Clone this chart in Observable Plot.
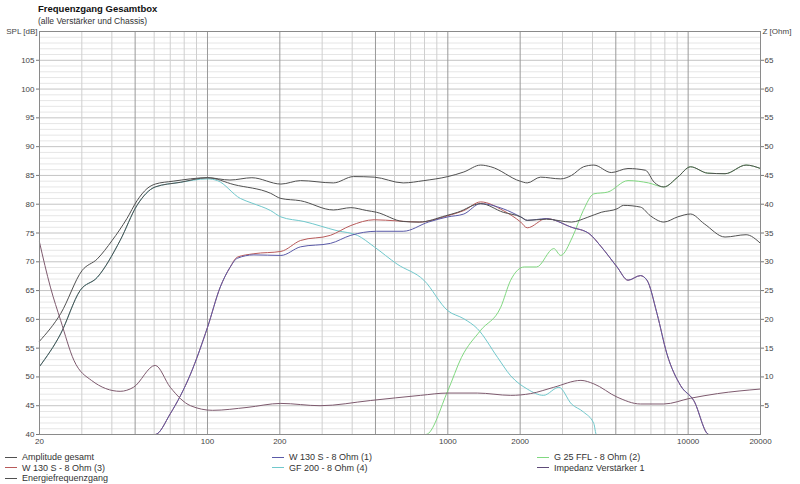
<!DOCTYPE html>
<html>
<head>
<meta charset="utf-8">
<script src="https://cdn.jsdelivr.net/npm/d3@7"></script>
<script src="https://cdn.jsdelivr.net/npm/@observablehq/plot@0.6"></script>
<style>
  body { margin: 0; background: #fff; font-family: "Liberation Sans", Arial, sans-serif; width: 800px; height: 484px; overflow: hidden; }
  #header { position: relative; height: 24px; }
  #title { position: absolute; left: 38px; top: 3px; font-size: 9.5px; font-weight: bold; color: #111; }
  #subtitle { position: absolute; left: 38px; top: 16px; font-size: 8.5px; color: #333; }
  #chart svg { display: block; background: transparent; overflow: visible; }
  #legend { position: relative; height: 34px; font-size: 9px; color: #333; }
  .item { position: absolute; display: flex; align-items: center; height: 10px; line-height: 10px; white-space: nowrap; }
  .swatch { width: 12px; height: 0; border-top: 1px solid; margin-right: 5px; }
</style>
</head>
<body>
<div id="header">
  <div id="title">Frequenzgang Gesamtbox</div>
  <div id="subtitle">(alle Verstärker und Chassis)</div>
</div>
<div id="chart"></div>
<div id="legend"></div>
<script>
// ---- data (frequency in Hz, level in dB, impedance in Ohm) ----
const ampF  = [20,24.5,30.1,34.8,40.1,46.2,50.9,56,60.6,72,100,124,153,202,244,334,405,494,652,795,1000,1166,1370,1510,2000,2140,2430,2950,3270,3670,4050,4790,5620,6640,7230,7920,9050,10230,12050,14240,17420,20000];
const ampDb = [56.2,61.0,68.5,70.5,73.7,77.5,80.6,82.7,83.5,84.0,84.6,84.2,84.6,83.5,84.1,83.7,84.8,84.7,83.7,84.1,84.8,85.6,86.8,86.5,84.0,83.7,84.7,84.4,85.0,86.5,86.8,85.5,86.2,85.9,83.8,83.0,84.7,86.5,85.4,85.3,86.8,86.2];

const enF  = [20,24.5,29.5,34.8,43.3,50.9,60.6,77,100,129,183,202,244,334,395,460,505,652,760,980,1100,1370,1700,2010,2140,2570,3270,3800,4350,5060,5390,6330,6960,7920,9050,10230,11670,14240,17420,20000];
const enDb = [51.8,57.5,65.0,67.3,73.7,79.8,83.0,83.8,84.6,83.4,81.9,81.0,80.6,79.0,79.4,78.9,78.6,77.0,76.9,78.0,78.6,80.1,78.6,77.8,77.2,77.4,76.9,77.7,78.6,79.2,79.8,79.5,78.0,76.9,77.8,78.3,76.6,74.3,74.7,73.2];

const gfF  = [20,24.5,29.5,34.8,43.3,50.9,60.6,77,100,110,137,153,183,202,252,346,420,494,615,795,1000,1166,1326,1610,1826,2140,2500,2900,3270,3670,4050,4150,20000];
const gfDb = [51.8,57.5,65.0,67.3,73.7,79.8,83.0,83.8,84.4,84.1,81.0,80.2,78.9,77.8,77.0,75.4,74.6,72.6,69.6,66.8,61.5,60.1,58.4,53.4,50.2,47.9,46.8,48.2,45.3,43.9,41.9,40,40];

const w3F  = [20,60.6,70,85,100,113,124,133,156,202,244,325,395,494,615,760,1000,1166,1370,1700,2010,2140,2570,3270,3870,4350,5060,5620,6330,6740,7420,8160,9300,10550,12200,20000];
const w3Db = [40,40,43.6,50.5,58.6,65.6,69.0,70.8,71.4,71.8,73.7,74.6,76.3,77.3,77.1,76.9,78.0,78.9,80.4,78.9,76.9,75.9,77.5,76.0,74.9,72.6,69.1,66.8,67.6,66.8,61.0,54.0,48.5,45.9,40,40];

const w1F  = [20,60.6,70,85,100,113,124,133,156,202,244,325,395,505,652,830,1000,1166,1370,1700,2010,2140,2570,3270,3870,4350,5060,5620,6330,6740,7420,8160,9300,10550,12200,20000];
const w1Db = [40,40,43.6,50.5,58.6,65.6,69.0,70.6,71.2,71.1,72.6,73.2,74.6,75.3,75.3,76.9,77.8,78.3,80.1,79.2,77.8,77.2,77.5,76.0,74.9,72.6,69.1,66.8,67.6,66.8,61.0,54.0,48.5,45.9,40,40];

const g25F  = [62,810,1000,1140,1370,1660,1826,2080,2340,2760,2950,3300,3660,4050,4620,5620,6840,7920,9050,10230,12050,14240,17420,20000];
const g25Db = [40,40,47.6,53.4,58.1,62.1,66.8,69.1,69.1,72.3,71.1,74.3,78.9,81.8,82.1,84.1,83.7,83.0,84.7,86.5,85.4,85.3,86.8,86.2];

const impF   = [20,22.2,24.5,27.8,32.9,43.3,49.2,60.6,70,85,105,146,202,294,476,770,1000,1326,1826,2210,2760,3580,4050,5060,6330,7920,10230,13250,20000];
const impOhm = [33.4,25.6,19.8,12.9,9.4,7.5,8.2,12.0,8.2,5.0,4.2,4.7,5.4,5.0,5.9,6.8,7.2,7.2,6.8,7.1,8.2,9.4,8.8,6.5,5.3,5.3,6.3,7.1,7.9];

const xTicks = [20,50,100,200,500,1000,2000,5000,10000,20000];
const splTicks = d3.range(40, 110, 5);
const ohmTicks = d3.range(5, 70, 5);
const ohmOffset = 40; // 0 Ohm sits at 40 dB
const xGrid = [20,30,40,50,60,70,80,90,100,200,300,400,500,600,700,800,900,1000,2000,3000,4000,5000,6000,7000,8000,9000,10000,20000];
const yGrid = d3.range(40, 111, 1);

const series = [
  {name: "GF 200 - 8 Ohm (4)",  f: gfF,  v: gfDb,  color: "#70c8cc"},
  {name: "G 25 FFL - 8 Ohm (2)", f: g25F, v: g25Db, color: "#80d880"},
  {name: "W 130 S - 8 Ohm (3)",  f: w3F,  v: w3Db,  color: "#b85a5a"},
  {name: "W 130 S - 8 Ohm (1)",  f: w1F,  v: w1Db,  color: "#5a5aa8"},
  {name: "Energiefrequenzgang",  f: enF,  v: enDb,  color: "#505050"},
  {name: "Amplitude gesamt",     f: ampF, v: ampDb, color: "#505050"}
];
const toRows = s => s.f.map((f, i) => ({f, v: s.v[i]}));
const impRows = impF.map((f, i) => ({f, z: impOhm[i]}));

const chart = Plot.plot({
  width: 800,
  height: 426,
  marginLeft: 39,
  marginRight: 40,
  marginTop: 7,
  marginBottom: 16,
  style: {fontFamily: "'Liberation Sans', Arial, sans-serif", fontSize: "8px", color: "#444", background: "transparent", overflow: "visible"},
  x: {type: "log", domain: [20, 20000], axis: null},
  y: {domain: [40, 110], axis: null},
  marks: [
    Plot.ruleY(yGrid, {stroke: d => d % 5 === 0 ? "#c4c4c4" : "#e6e6e6", strokeWidth: 1}),
    Plot.ruleX(xGrid, {stroke: d => xTicks.includes(d) ? "#9a9a9a" : "#cfcfcf", strokeWidth: 1}),
    ...series.map(s => Plot.line(toRows(s), {x: "f", y: "v", stroke: s.color, strokeWidth: 1, curve: "monotone-x"})),
    Plot.line(impRows, {x: "f", y: d => d.z + ohmOffset, stroke: "#7e5a6e", strokeWidth: 1, curve: "monotone-x"}),
    Plot.frame({stroke: "#8a8a8a"}),
    Plot.axisY({anchor: "left", ticks: splTicks, tickSize: 3, tickPadding: 2, stroke: "#777", label: null}),
    Plot.axisY({anchor: "right", ticks: ohmTicks.map(t => t + ohmOffset), tickFormat: d => String(d - ohmOffset), tickSize: 3, tickPadding: 1, stroke: "#777", label: null}),
    Plot.axisX({anchor: "bottom", ticks: xTicks, tickFormat: d => String(d), tickSize: 0, tickPadding: 4, label: null}),
    Plot.text(["SPL [dB]"], {frameAnchor: "top-left", text: d => d, textAnchor: "end", dx: -2, lineAnchor: "middle", fill: "#444"}),
    Plot.text(["Z [Ohm]"], {frameAnchor: "top-right", text: d => d, textAnchor: "start", dx: 2, lineAnchor: "middle", fill: "#444"})
  ]
});
document.getElementById("chart").appendChild(chart);

// legend
const legendItems = [
  {name: "Amplitude gesamt",      color: "#505050", left: 5,   row: 0},
  {name: "W 130 S - 8 Ohm (3)",   color: "#b85a5a", left: 5,   row: 1},
  {name: "Energiefrequenzgang",   color: "#505050", left: 5,   row: 2},
  {name: "W 130 S - 8 Ohm (1)",   color: "#5a5aa8", left: 272, row: 0},
  {name: "GF 200 - 8 Ohm (4)",    color: "#70c8cc", left: 272, row: 1},
  {name: "G 25 FFL - 8 Ohm (2)",  color: "#80d880", left: 537, row: 0},
  {name: "Impedanz Verstärker 1", color: "#5e4a78", left: 537, row: 1}
];
const leg = document.getElementById("legend");
legendItems.forEach(it => {
  const d = document.createElement("div");
  d.className = "item";
  d.style.left = it.left + "px";
  d.style.top = (2 + it.row * 10.5) + "px";
  const sw = document.createElement("span");
  sw.className = "swatch";
  sw.style.borderTopColor = it.color;
  d.appendChild(sw);
  d.appendChild(document.createTextNode(it.name));
  leg.appendChild(d);
});
</script>
</body>
</html>
